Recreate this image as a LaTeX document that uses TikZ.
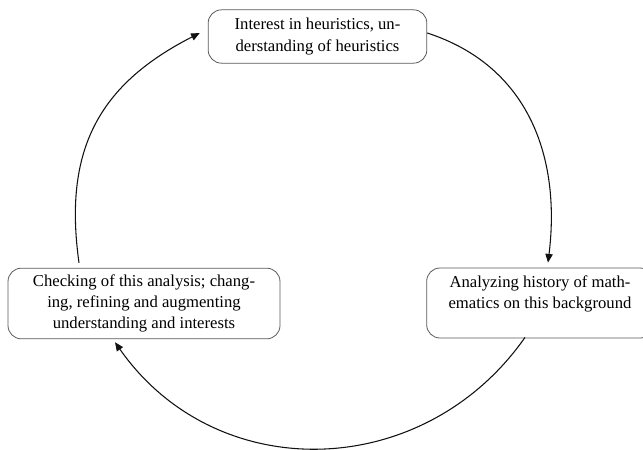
\documentclass[tikz,border=0pt]{standalone}
\usepackage{fontspec}
\setmainfont{Liberation Serif}
\usetikzlibrary{positioning,arrows.meta}
\definecolor{edge}{HTML}{5A5A5A}
\definecolor{ink}{HTML}{111111}
\tikzset{
  stage/.style={rectangle,rounded corners=10pt,draw=edge,fill=white,
    align=center,inner sep=0pt,line width=0.6pt,
    font=\fontsize{12.5}{16}\selectfont},
  ar/.style={-{Triangle[length=6.5pt,width=5.5pt]},line width=0.8pt,draw=ink},
}

\begin{document}
\begin{tikzpicture}[x=0.75pt,y=-0.75pt]
  \useasboundingbox (0,0) rectangle (643,450);
  \clip (0,0) rectangle (643,450);
  % stages of the cycle
  \node[stage,minimum width=164pt,minimum height=40pt] (top) at (317.5,36.5)
    {Interest in heuristics, un-\\derstanding of heuristics};
  \node[stage,minimum width=170pt,minimum height=52.5pt] (right) at (540,303)
    {Analyzing history of math-\\ematics on this background\\~};
  \node[stage,minimum width=204pt,minimum height=53pt] (left) at (144,303.5)
    {Checking of this analysis; chang-\\ing, refining and augmenting\\understanding and interests};
  % arcs between the stages
  \draw[ar] ([shift={(0,-3.5)}]top.east) to[out=-18,in=83,looseness=1.05] ([shift={(8,-5)}]right.north);
  \draw[ar] ([shift={(-15,-1)}]right.south) to[out=-125,in=-55,looseness=1.1] ([shift={(-29,3)}]left.south);
  \draw[ar] ([shift={(-65,-5)}]left.north) to[out=98,in=207,looseness=1.12] ([shift={(-8,-3.5)}]top.west);
\end{tikzpicture}
\end{document}
